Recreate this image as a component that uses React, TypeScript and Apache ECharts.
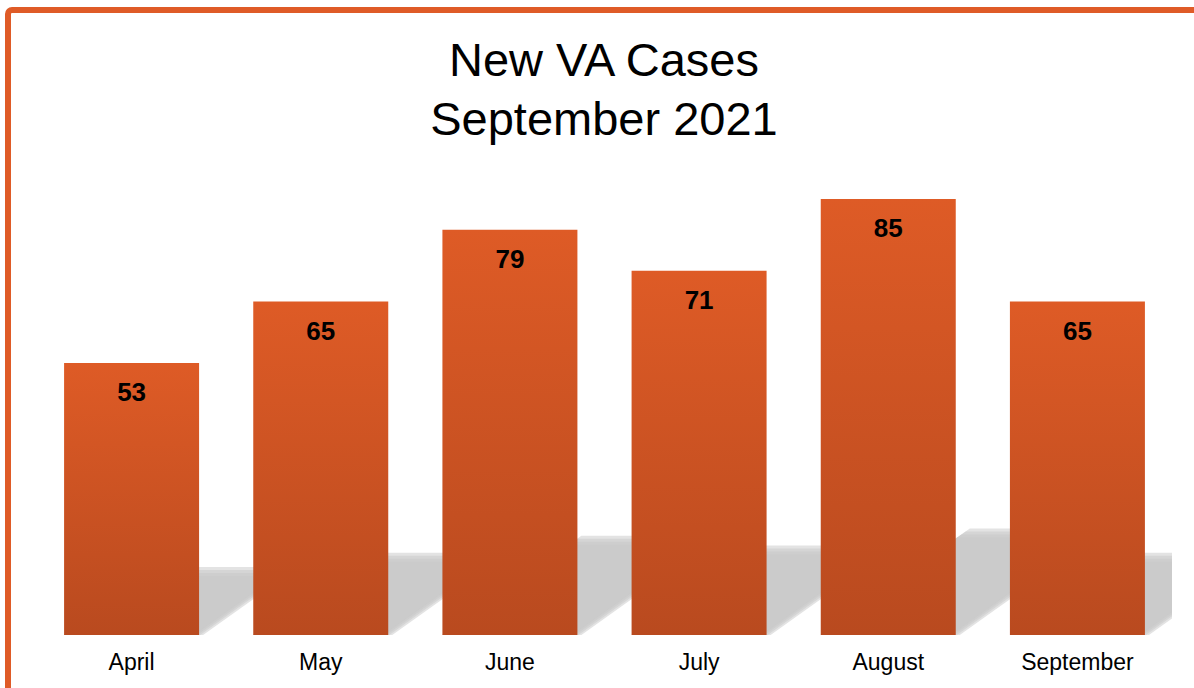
import React, { useEffect, useRef } from "react";
import * as echarts from "echarts";

const categories = ["April", "May", "June", "July", "August", "September"];
const cases = [53, 65, 79, 71, 85, 65];
const titleLines = ["New VA Cases", "September 2021"];

const FONT = "'Liberation Sans', Arial, Helvetica, sans-serif";
const BAR_W = 135;

export default function App() {
  const ref = useRef<HTMLDivElement>(null);
  useEffect(() => {
    if (!ref.current) return;
    const chart = echarts.init(ref.current, undefined, { renderer: "svg" });
    chart.setOption({
      animation: false,
      backgroundColor: "#ffffff",
      title: {
        text: titleLines.join("\n"),
        left: 599,
        top: 25,
        textAlign: "center",
        textStyle: {
          fontSize: 47,
          lineHeight: 59,
          fontWeight: "normal",
          color: "#000000",
          fontFamily: FONT,
        },
      },
      graphic: [
        {
          type: "rect",
          shape: { x: 8, y: 10, width: 1300, height: 900, r: 4 },
          style: { fill: "none", stroke: "#DF5B27", lineWidth: 6 },
          z: 100,
        },
      ],
      grid: { left: 37, right: 22, top: 122, bottom: 53 },
      xAxis: {
        type: "category",
        data: categories,
        axisLine: { show: false },
        axisTick: { show: false },
        axisLabel: {
          color: "#000000",
          fontSize: 23,
          fontFamily: FONT,
          margin: 15,
        },
      },
      yAxis: {
        type: "value",
        min: 0,
        max: 100,
        show: false,
        splitLine: { show: false },
      },
      series: [
        {
          type: "custom",
          clip: true,
          z: 1,
          data: cases.map((v, i) => [i, v]),
          renderItem: (params: any, api: any) => {
            const idx = api.value(0);
            const val = api.value(1);
            const base = api.coord([idx, 0]);
            const top = api.coord([idx, val]);
            const barH = base[1] - top[1];
            const h = barH * 0.235;
            const k = 1.4;
            const cx = base[0];
            const half = BAR_W / 2;
            const B = base[1];
            const offs = [-4, -1, 2, 5];
            return {
              type: "group",
              children: offs.map((o) => {
                const hh = h - o;
                return {
                  type: "polygon",
                  shape: {
                    points: [
                      [cx - half, B],
                      [cx + half - o, B],
                      [cx + half - o + hh * k, B - hh],
                      [cx - half + hh * k, B - hh],
                    ],
                  },
                  style: { fill: "#C7C7C7", opacity: 0.5 },
                };
              }),
            };
          },
        },
        {
          type: "bar",
          z: 2,
          data: cases,
          barWidth: BAR_W,
          itemStyle: {
            color: new echarts.graphic.LinearGradient(0, 0, 0, 1, [
              { offset: 0, color: "#DE5B26" },
              { offset: 1, color: "#B94A1F" },
            ]),
          },
          label: {
            show: true,
            position: "insideTop",
            distance: 16,
            color: "#000000",
            fontWeight: "bold",
            fontSize: 26,
            fontFamily: FONT,
          },
        },
      ],
    });
    return () => chart.dispose();
  }, []);
  return (
    <div
      ref={ref}
      style={{ position: "absolute", left: 0, top: 0, width: 1194, height: 688 }}
    />
  );
}
